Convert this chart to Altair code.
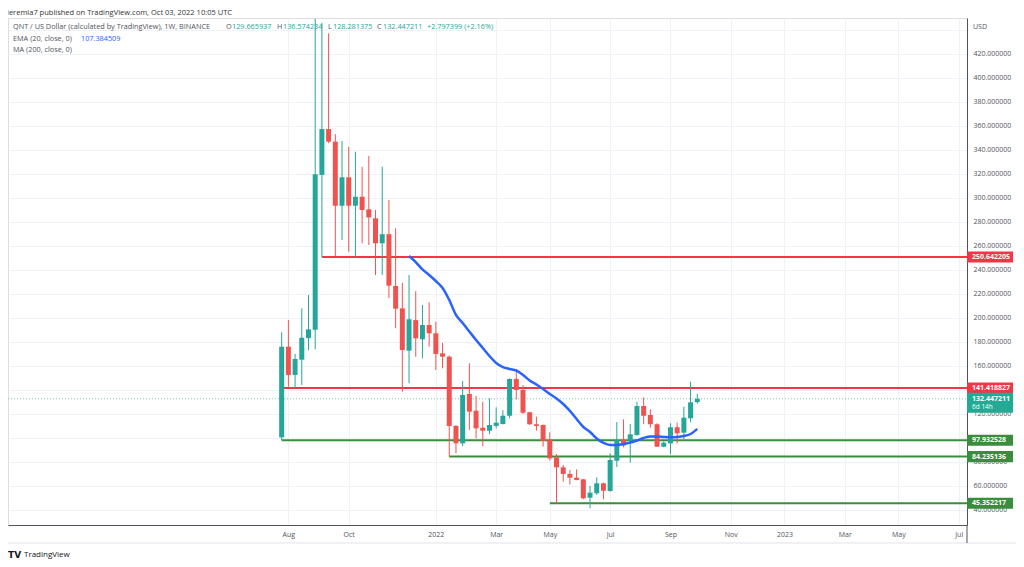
import altair as alt
import pandas as pd

# ---------------- data ----------------
first_week = "2021-07-26"
opens  = [100.3, 175.8, 152.3, 165.0, 183.0, 190.0, 319.0, 357.2, 346.7, 293.3,
          317.0, 293.3, 300.8, 290.3, 282.8, 262.0, 269.6, 226.4, 207.8, 172.5,
          198.0, 182.0, 193.9, 187.0, 170.3, 167.5, 109.8, 95.3, 136.4, 122.5,
          108.3, 105.8, 109.8, 111.4, 118.3, 148.9, 139.8, 121.2, 111.2, 110.6,
          98.0, 83.6, 75.3, 69.8, 66.7, 65.3, 50.0, 53.7, 62.0, 55.6,
          80.8, 98.3, 97.3, 102.3, 126.4, 118.9, 111.2, 92.5, 95.3, 108.7,
          104.2, 116.2, 129.665937]
highs  = [187.8, 198.0, 169.8, 207.8, 218.9, 449.0, 445.6, 437.0, 353.0, 347.2,
          342.5, 338.3, 325.8, 334.8, 289.8, 325.8, 298.0, 274.5, 229.0, 235.6,
          222.0, 210.6, 212.8, 196.7, 179.0, 168.5, 110.5, 147.3, 162.0, 134.8,
          130.0, 132.8, 125.3, 123.0, 149.5, 156.4, 143.9, 121.5, 117.5, 111.0,
          104.5, 86.4, 77.3, 73.0, 73.6, 65.5, 59.8, 67.0, 62.5, 87.0,
          113.0, 115.3, 111.4, 130.0, 133.6, 123.6, 112.0, 97.0, 112.0, 112.5,
          125.8, 146.7, 136.574234]
lows   = [98.0, 142.5, 141.2, 143.9, 173.0, 173.7, 250.6, 345.5, 250.8, 264.7,
          255.0, 250.3, 262.0, 260.6, 235.6, 235.6, 216.2, 191.2, 138.3, 145.3,
          167.5, 166.2, 175.8, 156.4, 157.8, 84.2, 87.0, 93.1, 106.4, 99.5,
          93.0, 103.1, 107.8, 111.0, 116.2, 132.0, 119.8, 110.6, 105.8, 92.5,
          81.0, 45.4, 63.4, 61.0, 64.5, 48.7, 41.2, 52.3, 48.7, 55.0,
          75.6, 92.0, 79.2, 101.5, 111.2, 108.4, 92.5, 92.0, 86.2, 95.3,
          98.7, 112.8, 128.281375]
closes = [175.8, 152.3, 165.6, 183.3, 190.3, 319.5, 357.2, 346.7, 293.3, 317.0,
          293.3, 300.8, 289.8, 283.6, 262.0, 269.6, 226.7, 207.5, 173.0, 198.7,
          182.8, 193.9, 187.0, 169.8, 167.5, 109.8, 95.3, 135.6, 121.7, 107.8,
          105.8, 110.6, 112.5, 118.3, 148.9, 139.8, 120.8, 111.2, 109.8, 97.3,
          82.8, 75.3, 69.8, 66.7, 64.8, 49.5, 54.2, 62.0, 55.8, 81.4,
          98.0, 93.5, 102.8, 126.4, 118.3, 111.2, 92.5, 95.8, 108.7, 103.7,
          116.7, 129.5, 132.447211]

# EMA(20) starts at candle 19
ema_first_index = 19
ema_values = [251.4, 246.4, 240.2, 235.6, 230.6, 224.8, 214.8, 202.3, 195.6, 188.5,
              181.4, 174.8, 168.1, 162.3, 158.9, 157.3, 156.0, 152.3, 147.7, 144.3,
              140.6, 136.4, 132.7, 128.1, 122.3, 115.6, 108.9, 104.8, 99.3, 95.6,
              93.9, 93.9, 94.8, 96.0, 97.7, 99.8, 101.0, 101.0, 100.6, 100.3,
              100.6, 101.4, 103.1, 107.384509]

level_values = [250.642205, 141.418827, 97.932528, 84.235136, 45.352217]
level_kind = ["res", "res", "sup", "sup", "sup"]
level_start_candle = [6, 0, 0, 25, 40]

last_price = 132.447211
last_countdown = "6d 14h"

tick_dates = ["2021-08-02", "2021-10-04", "2022-01-03", "2022-03-07", "2022-05-02",
              "2022-07-04", "2022-09-05", "2022-11-07", "2023-01-02", "2023-03-06",
              "2023-05-01", "2023-07-03"]
price_ticks = list(range(40, 441, 20))
hidden_price_labels = [100, 140, 440]   # fully covered by level tags in the reference

# ---------------- styling ----------------
GREEN = "#26a69a"
RED = "#ef5350"
LVL_RED = "#f23645"
LVL_GREEN = "#388e3c"
BLUE = "#2962ff"
TXT = "#50535e"
FONT = "Open Sans"
W, H = 959, 507

dates = pd.date_range(first_week, periods=len(opens), freq="7D")
date_str = [d.strftime("%Y-%m-%dT00:00:00Z") for d in dates]

candles = pd.DataFrame({"date": date_str, "open": opens, "high": highs,
                        "low": lows, "close": closes})
ema = pd.DataFrame({"date": date_str[ema_first_index:], "ema": ema_values})
levels = pd.DataFrame({
    "value": level_values,
    "kind": level_kind,
    "start": [date_str[i] for i in level_start_candle],
})

def dt(s, h=0, m=0):
    y, mo, d = (int(p) for p in s.split("-"))
    return alt.DateTime(year=y, month=mo, date=d, hours=h, minutes=m, utc=True)

xscale = alt.Scale(type="utc", domain=[dt("2020-10-18", 10, 30), dt("2023-07-06", 10, 30)])
yscale = alt.Scale(domain=[27.25, 449.75], nice=False, zero=False)

hide_expr = " || ".join(f"datum.value == {v}" for v in hidden_price_labels)
xaxis = alt.Axis(
    values=[dt(s) for s in tick_dates],
    labelExpr="utcFormat(datum.value, '%m') == '01' ? utcFormat(datum.value, '%Y') : utcFormat(datum.value, '%b')",
    title=None, ticks=False, labelPadding=5, labelFontSize=7, labelColor=TXT,
    labelFont=FONT, domainColor="#50535e", gridColor="#eef1f6", grid=True,
    labelOverlap=False,
)
yaxis = alt.Axis(
    orient="right", values=price_ticks, title=None, ticks=False, labelPadding=6,
    labelExpr=f"({hide_expr}) ? '' : format(datum.value, '.6f')",
    labelFontSize=7, labelColor=TXT, labelFont=FONT, domainColor="#50535e",
    gridColor="#eef1f6", grid=True, labelOverlap=False,
)

base = alt.Chart(candles)
color_cond = alt.condition("datum.close >= datum.open", alt.value(GREEN), alt.value(RED))

grid_layer = base.mark_rule(opacity=0).encode(
    x=alt.X("date:T", scale=xscale, axis=xaxis),
    y=alt.Y("close:Q", scale=yscale, axis=yaxis),
)

wicks = base.mark_rule(strokeWidth=1, clip=True).encode(
    x=alt.X("date:T", axis=xaxis), y=alt.Y("low:Q", axis=yaxis), y2="high:Q", color=color_cond)
bodies = base.mark_bar(width=5, clip=True).encode(
    x=alt.X("date:T", axis=xaxis), y=alt.Y("open:Q", axis=yaxis), y2="close:Q", color=color_cond)

ema_line = alt.Chart(ema).mark_line(color=BLUE, strokeWidth=2.5, interpolate="monotone").encode(
    x=alt.X("date:T", axis=xaxis), y=alt.Y("ema:Q", axis=yaxis))

lvl_color = alt.condition("datum.kind == 'res'", alt.value(LVL_RED), alt.value(LVL_GREEN))
level_lines = alt.Chart(levels).mark_rule(strokeWidth=2).encode(
    x=alt.X("start:T", axis=xaxis), x2=alt.value(W), y=alt.Y("value:Q", axis=yaxis), color=lvl_color)

BOX = "M-1,-0.24H1V0.24H-1Z"
level_boxes = alt.Chart(levels).mark_point(shape=BOX, filled=True, opacity=1, size=46 * 46).encode(
    x=alt.value(W + 23), y=alt.Y("value:Q", axis=yaxis), color=lvl_color)
level_text = alt.Chart(levels).mark_text(align="left", baseline="middle", color="white",
                                         fontSize=7, font=FONT, fontWeight="bold").encode(
    x=alt.value(W + 5), y=alt.Y("value:Q", axis=yaxis), text=alt.Text("value:Q", format=".6f"))

last_df = pd.DataFrame({"value": [last_price], "sub": [last_countdown]})
last_line = alt.Chart(last_df).mark_rule(color=GREEN, strokeDash=[1, 2], opacity=0.6).encode(
    x=alt.value(0), x2=alt.value(W), y=alt.Y("value:Q", axis=yaxis))
last_box = alt.Chart(last_df).mark_point(shape="M-1,-0.435H1V0.435H-1Z", filled=True,
                                         opacity=1, size=46 * 46, yOffset=4, color="#22ab94").encode(
    x=alt.value(W + 23), y=alt.Y("value:Q", axis=yaxis))
last_text = alt.Chart(last_df).mark_text(align="left", baseline="middle", color="white",
                                         fontSize=7, font=FONT, fontWeight="bold").encode(
    x=alt.value(W + 5), y=alt.Y("value:Q", axis=yaxis), text=alt.Text("value:Q", format=".6f"))
last_sub = alt.Chart(last_df).mark_text(align="left", baseline="middle", color="white",
                                        fontSize=6.5, font=FONT, yOffset=8).encode(
    x=alt.value(W + 5), y=alt.Y("value:Q", axis=yaxis), text="sub:N")

def label(text, x, y, color=TXT, size=7.3, font=FONT, weight="normal"):
    return alt.Chart(pd.DataFrame({"t": [text]})).mark_text(
        align="left", baseline="middle", color=color, fontSize=size, font=font,
        fontWeight=weight).encode(x=alt.value(x), y=alt.value(y), text="t:N")

texts = [
    label("ieremia7 published on TradingView.com, Oct 03, 2022 10:05 UTC", -1, -5.5, "#333333", 7.5),
    label("QNT / US Dollar (calculated by TradingView), 1W, BINANCE", 5, 9),
    label("O", 218, 9), label("129.665937", 224, 9, GREEN),
    label("H", 269, 9), label("136.574234", 275, 9, GREEN),
    label("L", 320, 9), label("128.281375", 325, 9, GREEN),
    label("C", 369, 9), label("132.447211", 375, 9, GREEN),
    label("+2.797399 (+2.16%)", 419, 9, GREEN),
    label("EMA (20, close, 0)", 5, 21), label("107.384509", 73, 21, BLUE),
    label("MA (200, close, 0)", 5, 32),
    label("USD", W + 6, 9, TXT, 7),
    label("TV", 0, 537, "#131722", 9, "DejaVu Sans", "bold"),
    label("TradingView", 16, 537, "#131722", 8),
]

frame_bottom = alt.Chart(pd.DataFrame({"a": [0]})).mark_rule(color="#e0e3eb").encode(
    x=alt.value(-3), x2=alt.value(W + 50), y=alt.value(525))
axis_ext = alt.Chart(pd.DataFrame({"a": [0]})).mark_rule(color="#50535e").encode(
    x=alt.value(W), y=alt.value(H), y2=alt.value(525))

chart = alt.layer(
    grid_layer, level_lines, last_line, wicks, bodies, ema_line,
    level_boxes, level_text, last_box, last_text, last_sub,
    frame_bottom, axis_ext, *texts,
).properties(
    width=W, height=H,
    autosize=alt.AutoSizeParams(type="none"),
    padding={"left": 0, "top": 10, "right": 49, "bottom": 34},
).configure_view(stroke="#e0e3eb").configure(background="white").configure_axis(
    labelOverlap=False, labelBound=False
)

chart.save("out.html", embed_options={"renderer": "svg", "actions": False})
